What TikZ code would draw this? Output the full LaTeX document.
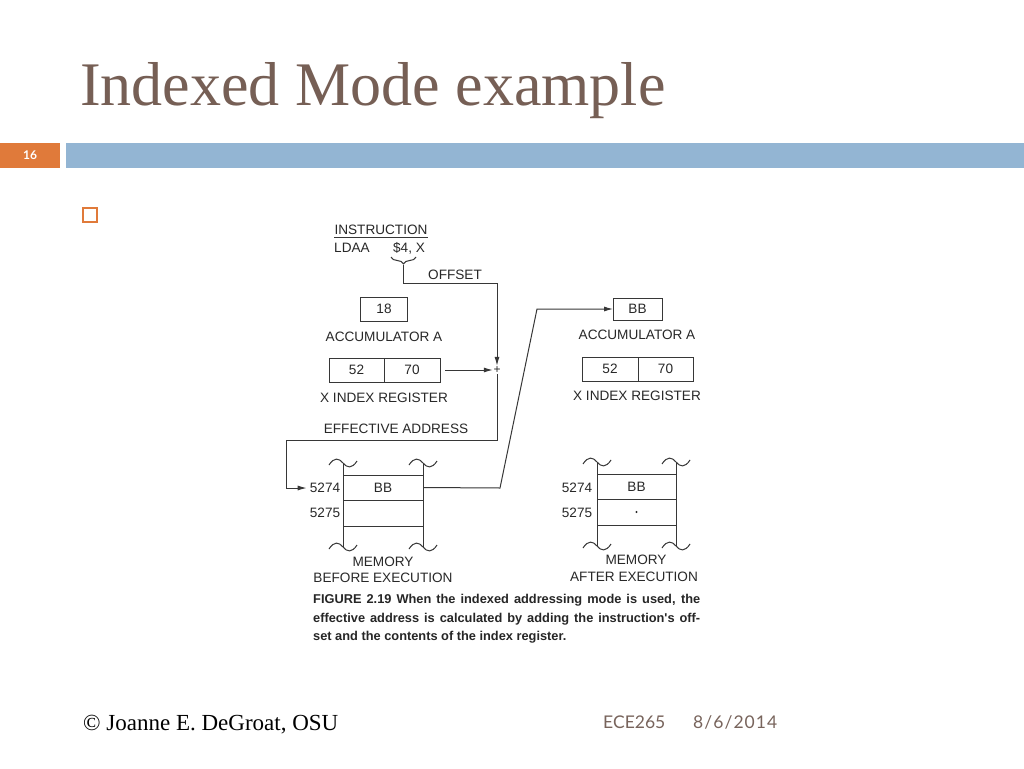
\documentclass[tikz,border=0pt]{standalone}
\usepackage{fontspec}
\setmainfont{Liberation Serif}
\newfontfamily\helv{Liberation Sans}
\newfontfamily\gill{Lato}
\usetikzlibrary{positioning,arrows.meta,decorations.pathreplacing}
\definecolor{titlec}{RGB}{118,95,85}
\definecolor{orangec}{RGB}{224,122,58}
\definecolor{barc}{RGB}{147,181,211}
\definecolor{inkc}{RGB}{40,40,40}
\definecolor{linec}{RGB}{55,55,55}
\definecolor{footc}{RGB}{120,100,92}

\tikzset{
  lbl/.style={font=\helv\fontsize{13.6}{14}\selectfont, text=inkc, inner sep=0pt},
  regbox/.style={lbl, draw=linec, line width=1pt, minimum height=24pt, outer sep=0pt},
  wire/.style={draw=linec, line width=1pt},
  arr/.style={wire, -{Latex[length=9pt,width=5pt]}},
  capt/.style={anchor=west, inner sep=0pt, text=black!85, font=\helv\bfseries\fontsize{12.8}{13}\selectfont},
  squig/.pic={\draw[wire] (-14,2) .. controls (-9,-6) and (-4,-5) .. (0,0) .. controls (4,5) and (9,6) .. (14,-2);},
}

\begin{document}
\begin{tikzpicture}[x=1pt, y=-1pt]
  % Page
  \fill[white] (0,0) rectangle (1024,768);
  \useasboundingbox (0,0) rectangle (1024,768);

  % Title and bar
  \node[anchor=base west, inner sep=0pt, text=titlec, font=\fontsize{62}{62}\selectfont] (title) at (80,105) {Indexed Mode example};
  \node[fill=orangec, minimum width=60pt, minimum height=25pt, inner sep=0pt, anchor=north west, text=white, font=\gill\bfseries\fontsize{12}{12}\selectfont] (num) at (0,143) {16};
  \node[fill=barc, minimum width=958pt, minimum height=25pt, inner sep=0pt, anchor=north west] (bar) at (66,143) {};
  \node[draw=orangec, line width=1.2pt, minimum size=14pt, inner sep=0pt] (bullet) at (90,215) {};

  % Instruction
  \node[lbl] (instr) at (381,230) {INSTRUCTION};
  \draw[wire] ([yshift=-2pt]instr.south west) -- ([yshift=-2pt]instr.south east);
  \node[lbl] (ldaa) at (352,248) {LDAA};
  \node[lbl] (ofs) at (409,248) {\$4, X};
  \coordinate (brL) at (391,257);
  \coordinate (brR) at (416,257);
  \draw[wire, decorate, decoration={brace, mirror, amplitude=7pt}] (brL) -- (brR);
  \coordinate (tip) at (403.5,265);
  \coordinate (offc) at (497,283);
  \node[lbl] (offl) at (455,275) {OFFSET};
  \node[inner sep=0.5pt, text=inkc, font=\helv\fontsize{12}{12}\selectfont] (plus) at (497,370) {+};
  \draw[arr] (tip) |- (offc) -- (plus.north);

  % Accumulator and index register, before
  \node[regbox, minimum width=47pt] (accL) at (384,309) {18};
  \node[lbl] (accLl) at (384,337) {ACCUMULATOR A};
  \node[regbox, minimum width=55pt] (xhiL) at (356.5,370) {52};
  \node[regbox, minimum width=56pt, right=0pt of xhiL] (xloL) {70};
  \node[lbl] (xregLl) at (384,398) {X INDEX REGISTER};
  \draw[arr, shorten <=5pt] (xloL.east) -- (plus.west);

  % Effective address
  \node[lbl] (eal) at (396,429) {EFFECTIVE ADDRESS};
  \coordinate (eaR) at (497,440);
  \coordinate (eaL) at (286,440);
  \node[lbl] (adrA) at (325,488) {5274};
  \node[lbl] (adrB) at (325,513) {5275};
  \draw[arr, shorten >=3pt] (plus.south) -- (eaR) -- (eaL) |- (adrA.west);

  % Memory, before
  \node[regbox, minimum width=80pt, minimum height=25pt] (memA) at (383,487.5) {BB};
  \node[regbox, minimum width=80pt, minimum height=26pt, below=0pt of memA] (memB) {};
  \draw[wire] (memA.north west) -- ++(0,-12) pic {squig};
  \draw[wire] (memA.north east) -- ++(0,-12) pic {squig};
  \draw[wire] (memB.south west) -- ++(0,21) pic {squig};
  \draw[wire] (memB.south east) -- ++(0,21) pic {squig};
  \node[lbl] (memLl) at (383,562) {MEMORY};
  \node[lbl] (memLb) at (383,578) {BEFORE EXECUTION};

  % Load into accumulator
  \coordinate (bbA) at (500,488);
  \coordinate (bbB) at (537,309);
  \node[regbox, minimum width=49pt, minimum height=22pt] (accR) at (637.5,309) {BB};
  \draw[arr] (memA.east) -- (bbA) -- (bbB) -- (accR.west);

  % Accumulator and index register, after
  \node[lbl] (accRl) at (637,335) {ACCUMULATOR A};
  \node[regbox, minimum width=56pt] (xhiR) at (610,369) {52};
  \node[regbox, minimum width=55pt, right=0pt of xhiR] (xloR) {70};
  \node[lbl] (xregRl) at (637,396) {X INDEX REGISTER};

  % Memory, after
  \node[regbox, minimum width=79pt, minimum height=25pt] (memC) at (636.5,486.5) {BB};
  \node[regbox, minimum width=79pt, minimum height=26pt, below=0pt of memC] (memD) {};
  \fill[inkc] (memD.center) circle (1.1pt);
  \draw[wire] (memC.north west) -- ++(0,-12) pic {squig};
  \draw[wire] (memC.north east) -- ++(0,-12) pic {squig};
  \draw[wire] (memD.south west) -- ++(0,21) pic {squig};
  \draw[wire] (memD.south east) -- ++(0,21) pic {squig};
  \node[lbl] (adrC) at (577,488) {5274};
  \node[lbl] (adrD) at (577,513) {5275};
  \node[lbl] (memRl) at (636,560) {MEMORY};
  \node[lbl] (memRa) at (634,577) {AFTER EXECUTION};

  % Caption
  \node[capt] (capA) at (313,600) {\makebox[387pt][s]{FIGURE 2.19 When the indexed addressing mode is used, the}};
  \node[capt] (capB) at (313,619) {\makebox[387pt][s]{effective address is calculated by adding the instruction's off-}};
  \node[capt] (capC) at (313,637) {set and the contents of the index register.};

  % Footer
  \node[anchor=base west, inner sep=0pt, font=\fontsize{23}{23}\selectfont] (copy) at (83,730) {© Joanne E. DeGroat, OSU};
  \node[anchor=base west, inner sep=0pt, text=footc, font=\gill\fontsize{17.5}{18}\selectfont] (course) at (603,728) {ECE265};
  \node[anchor=base west, inner sep=0pt, text=footc, font=\gill\fontsize{17.5}{18}\selectfont\addfontfeatures{LetterSpace=6}] (date) at (693,728) {8/6/2014};
\end{tikzpicture}
\end{document}
